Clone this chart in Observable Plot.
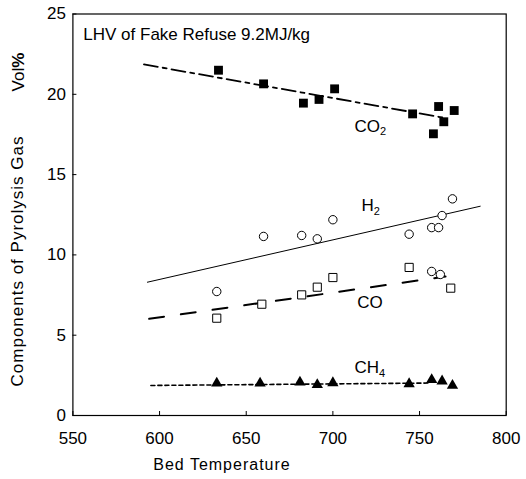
<!DOCTYPE html>
<html><head><meta charset="utf-8">
<script src="https://cdn.jsdelivr.net/npm/d3@7"></script>
<script src="https://cdn.jsdelivr.net/npm/@observablehq/plot@0.6"></script>
<style>
body{margin:0;background:#fff}
svg{font-family:"Liberation Sans",Arial,sans-serif}
</style>
</head><body><div id="chart"></div>
<script>
// Measured points (bed temperature, vol%)
const co2Temp = [634, 660, 683, 692, 701, 746, 761, 770, 764, 758];
const co2Vol  = [21.5, 20.65, 19.45, 19.68, 20.34, 18.78, 19.24, 18.99, 18.29, 17.54];
const h2Temp  = [633, 660, 682, 691, 700, 744, 757, 761, 763, 769, 757, 762];
const h2Vol   = [7.72, 11.15, 11.21, 11.0, 12.19, 11.29, 11.7, 11.7, 12.45, 13.49, 8.97, 8.78];
const coTemp  = [633, 659, 682, 691, 700, 744, 768];
const coVol   = [6.06, 6.93, 7.51, 7.99, 8.59, 9.22, 7.93];
const ch4Temp = [633, 658, 681, 691, 700, 744, 757, 763, 769];
const ch4Vol  = [2.01, 2.01, 2.07, 1.91, 2.03, 1.97, 2.22, 2.14, 1.87];
// Trend lines (end points)
const co2FitTemp = [591, 764], co2FitVol = [21.86, 18.54];
const h2FitTemp  = [593, 785], h2FitVol  = [8.3, 13.03];
const coFitTemp  = [594, 765], coFitVol  = [6.02, 8.65];
const ch4FitTemp = [595, 755], ch4FitVol = [1.87, 2.02];
// Series labels
const labelText = ["CO2", "H2", "CO", "CH4"];
const labelTemp = [712.5, 716.5, 714, 712.5];
const labelVol  = [18.0, 13.05, 7.02, 2.96];
// Axis ticks
const xTicks = [550, 600, 650, 700, 750, 800];
const yTicks = [0, 5, 10, 15, 20, 25];
const noteText = "LHV of Fake Refuse 9.2MJ/kg";

const pts = (xs, ys) => xs.map((x, i) => ({x, y: ys[i]}));
const co2 = pts(co2Temp, co2Vol), h2 = pts(h2Temp, h2Vol), co = pts(coTemp, coVol), ch4 = pts(ch4Temp, ch4Vol);
const labels = labelText.map((t, i) => ({t, x: labelTemp[i], y: labelVol[i]}));

const W = 526, H = 479;
const chart = Plot.plot({
  width: W, height: H,
  marginLeft: 72.4, marginRight: 20.3, marginTop: 13.5, marginBottom: 64,
  style: {fontSize: "17px", fontFamily: "Liberation Sans, Arial, sans-serif", color: "#000", background: "#fff"},
  x: {domain: [550, 800]},
  y: {domain: [0, 25]},
  marks: [
    Plot.frame({stroke: "#000", strokeWidth: 1.2}),
    Plot.axisX({ticks: xTicks, tickSize: -4, tickPadding: 20, label: null, fontSize: 17, stroke: "#000"}),
    Plot.axisY({ticks: yTicks, tickSize: -4, tickPadding: 11, label: null, fontSize: 17, stroke: "#000"}),
    Plot.line(pts(co2FitTemp, co2FitVol), {x: "x", y: "y", stroke: "#000", strokeWidth: 1.8, strokeDasharray: "14,5,4,5"}),
    Plot.line(pts(h2FitTemp, h2FitVol), {x: "x", y: "y", stroke: "#000", strokeWidth: 1}),
    Plot.line(pts(coFitTemp, coFitVol), {x: "x", y: "y", stroke: "#000", strokeWidth: 2, strokeDasharray: "15,17"}),
    Plot.line(pts(ch4FitTemp, ch4FitVol), {x: "x", y: "y", stroke: "#000", strokeWidth: 1.6, strokeDasharray: "4,3"}),
    Plot.dot(co2, {x: "x", y: "y", symbol: "square", r: 5, fill: "#000", stroke: "none"}),
    Plot.dot(h2, {x: "x", y: "y", symbol: "circle", r: 4.2, fill: "#fff", stroke: "#000", strokeWidth: 1}),
    Plot.dot(co, {x: "x", y: "y", symbol: "square", r: 4.6, fill: "#fff", stroke: "#000", strokeWidth: 1}),
    Plot.dot(ch4, {x: "x", y: "y", symbol: "triangle", r: 4.2, fill: "#000", stroke: "none"}),
    Plot.text(labels, {x: "x", y: "y", text: "t", textAnchor: "start", fontSize: 17, fill: "#000"}),
    Plot.text([noteText], {x: 556, y: 23.75, text: d => d, textAnchor: "start", fontSize: 17, fill: "#000"})
  ]
});
document.getElementById("chart").appendChild(chart);

const svg = d3.select(chart);
// subscripts
svg.selectAll("text").each(function() {
  const t = this.textContent;
  const m = /^(CO|H|CH)(\d)$/.exec(t);
  if (m) {
    const el = d3.select(this);
    el.text(m[1]);
    el.append("tspan").attr("dy", "0.3em").attr("font-size", "11px").text(m[2]);
  }
});
// axis titles
svg.append("text")
  .attr("x", 222).attr("y", 466).attr("text-anchor", "middle").attr("dominant-baseline", "middle")
  .attr("font-size", 16).attr("letter-spacing", 1).attr("fill", "#000")
  .text("Bed Temperature");
svg.append("text")
  .attr("transform", "translate(19,261) rotate(-90)").attr("text-anchor", "middle").attr("dominant-baseline", "middle")
  .attr("font-size", 17).attr("letter-spacing", 1).attr("fill", "#000")
  .text("Components of Pyrolysis Gas");
const vol = svg.append("text")
  .attr("transform", "translate(20,72) rotate(-90)").attr("text-anchor", "middle").attr("dominant-baseline", "middle")
  .attr("font-size", 17).attr("fill", "#000");
vol.append("tspan").text("Vol");
vol.append("tspan").attr("font-weight", "bold").text("%");
</script>
</body></html>
